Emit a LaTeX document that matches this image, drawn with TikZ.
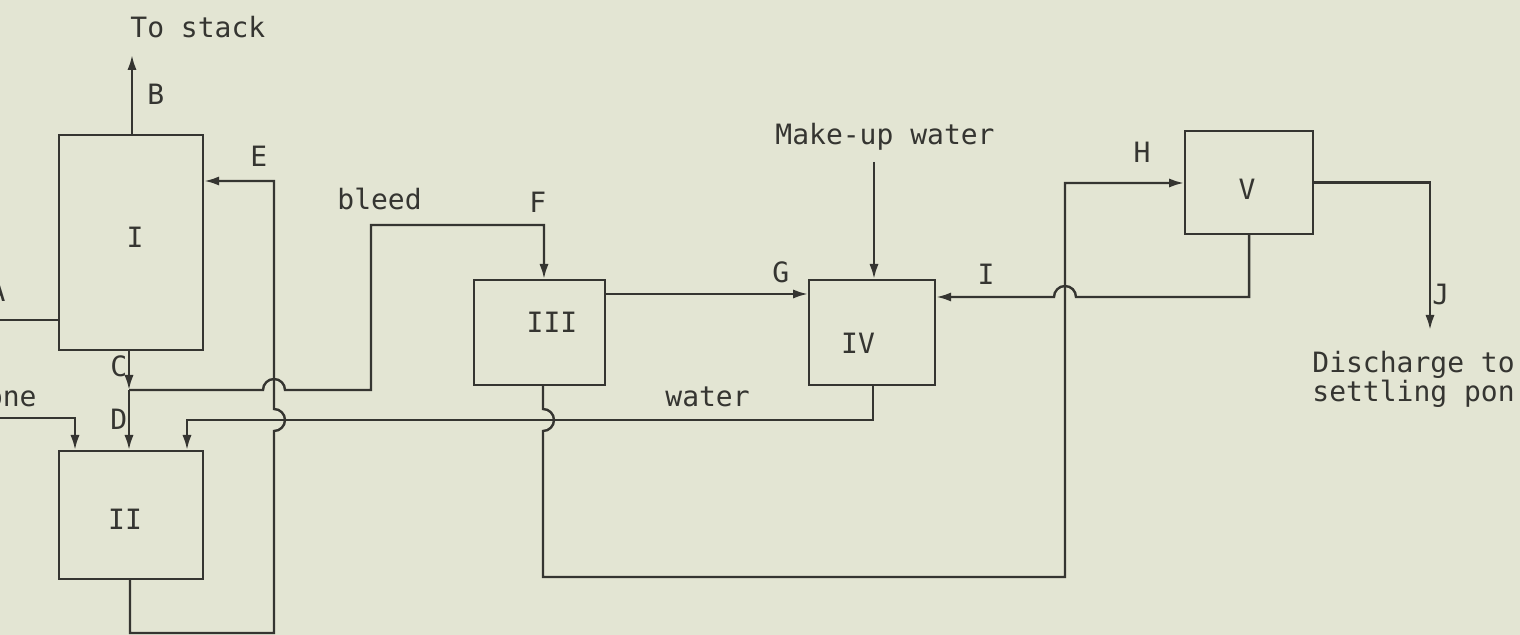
\documentclass[tikz,border=0pt]{standalone}
\usepackage{fontspec}
\setmonofont{DejaVu Sans Mono}
\usetikzlibrary{arrows.meta}
\definecolor{bg}{HTML}{E3E5D3}
\definecolor{ink}{HTML}{353531}
\begin{document}
\begin{tikzpicture}[x=0.5pt,y=-0.5pt,
  box/.style={draw=ink, line width=1.1pt, inner sep=0pt, anchor=north west},
  flow/.style={draw=ink, line width=1.2pt, line join=miter},
  arr/.style={flow, -{Latex[length=7.5pt,width=4.6pt]}},
  lbl/.style={font=\ttfamily\fontsize{14}{16}\selectfont, text=ink, inner sep=0pt}]
\useasboundingbox (0,0) rectangle (1520,635);
\clip (0,0) rectangle (1520,635);
\fill[bg] (0,0) rectangle (1520,635);

% boxes
\node[box, minimum width=72pt, minimum height=107.5pt] (I) at (58,134) {};
\node[box, minimum width=72pt, minimum height=64pt] (II) at (58,450) {};
\node[box, minimum width=65.5pt, minimum height=52.5pt] (III) at (473,279) {};
\node[box, minimum width=63pt, minimum height=52.5pt] (IV) at (808,279) {};
\node[box, minimum width=64pt, minimum height=51.5pt] (V) at (1184,130) {};

% box labels
\node[lbl, anchor=base] (tI) at (135,248) {I};
\node[lbl, anchor=base] (tII) at (125,530) {II};
\node[lbl, anchor=base] (tIII) at (552,333) {III};
\node[lbl, anchor=base] (tIV) at (858,354) {IV};
\node[lbl, anchor=base] (tV) at (1247,200) {V};

% free ends
\coordinate (stack) at (132,55);
\coordinate (ain) at (0,320);
\coordinate (jC) at (129,390);
\coordinate (ine) at (0,418);
\coordinate (mk) at (874,162);
\coordinate (jout) at (1430,330);

% B to stack
\draw[arr] (stack |- I.north) -- (stack);
% A into I
\draw[flow] (ain) -- (ain -| I.west);
% C and D
\draw[arr] (jC |- I.south) -- (jC);
\draw[arr] (jC) -- (jC |- II.north);
% input from left into II
\draw[arr] (ine) -- (75,418) -- (75,450 |- II.north);
% bleed to III (F)
\draw[arr] (jC) -- (263,390) arc[start angle=180,end angle=0,radius=5.5pt]
  -- (371,390) -- (371,225) -- (544,225) -- (544,225 |- III.north);
% E loop from II back to I
\draw[arr] (130,578 |- II.south) -- (130,633) -- (274,633) -- (274,431)
  arc[start angle=-90,end angle=90,radius=5.5pt] -- (274,181) -- (274,181 -| I.east);
% G : III to IV
\draw[arr] (III.east |- 0,294) -- (IV.west |- 0,294);
% make-up water
\draw[arr] (mk) -- (mk |- IV.north);
% water return from IV to II
\draw[arr] (873,384 |- IV.south) -- (873,420) -- (187,420) -- (187,450 |- II.north);
% III outlet to V (H)
\draw[arr] (543,384 |- III.south) -- (543,409)
  arc[start angle=90,end angle=-90,radius=5.5pt] -- (543,577) -- (1065,577) -- (1065,183)
  -- (V.west |- 0,183);
% I : V to IV
\draw[arr] (V.south) -- (V.south |- 0,297) -- (1076,297)
  arc[start angle=0,end angle=180,radius=5.5pt] -- (IV.east |- 0,297);
% J discharge
\draw[arr] (V.east) -- (jout |- V.east) -- (jout);

% labels
\node[lbl, anchor=base west] (ltstack) at (130,38) {To stack};
\node[lbl, anchor=base west] (lB) at (147,105) {B};
\node[lbl, anchor=base west] (lE) at (250,167) {E};
\node[lbl, anchor=base west] (lbleed) at (337,210) {bleed};
\node[lbl, anchor=base west] (lF) at (529,213) {F};
\node[lbl, anchor=base east] (lA) at (6,302) {A};
\node[lbl, anchor=base west] (lC) at (110,377) {C};
\node[lbl, anchor=base east] (lone) at (37,407) {one};
\node[lbl, anchor=base west] (lD) at (110,430) {D};
\node[lbl, anchor=base west] (lG) at (772,283) {G};
\node[lbl, anchor=base west] (lwater) at (665,407) {water};
\node[lbl, anchor=base east] (lmk) at (995,145) {Make-up water};
\node[lbl, anchor=base] (lI) at (986,285) {I};
\node[lbl, anchor=base] (lH) at (1142,163) {H};
\node[lbl, anchor=base west] (lJ) at (1432,305) {J};
\node[lbl, anchor=base west] (ld1) at (1312,373) {Discharge to};
\node[lbl, anchor=base west] (ld2) at (1312,402) {settling pon};
\end{tikzpicture}
\end{document}
